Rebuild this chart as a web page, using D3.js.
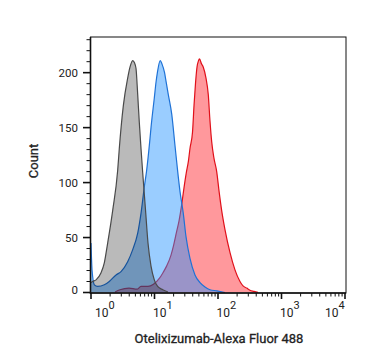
<!DOCTYPE html>
<html>
<head>
<meta charset="utf-8">
<script src="https://cdn.jsdelivr.net/npm/d3@7"></script>
<style>
  body { margin: 0; background: #fff; }
  text { font-family: Roboto, "Noto Sans", sans-serif; fill: #222; }
</style>
</head>
<body>
<div id="chart"></div>
<script>
const w = 367;
const h = 364;

// isotype control (gray)
const grayX = [1.00, 1.06, 1.20, 1.44, 1.62, 1.83, 2.20, 2.63, 2.79, 3.23, 3.78, 4.11, 4.54, 4.84, 5.11, 5.44, 5.76, 6.13, 6.52, 7.22, 7.90, 8.81, 9.93, 11.2, 13.5, 16.3];
const grayCount = [9, 10, 11.5, 18, 27, 45, 75, 111, 131, 170, 195, 205, 211, 209, 204, 180, 155, 131, 109, 75, 45, 24, 11.5, 5.5, 2.5, 0.5];

// blue sample
const blueX = [1.00, 1.04, 1.13, 1.27, 1.62, 1.94, 2.48, 2.97, 3.78, 4.54, 5.44, 6.13, 6.91, 7.48, 8.49, 8.81, 9.93, 10.6, 11.1, 12.3, 13.1, 14.4, 15.2, 16.5, 18.7, 21.0, 23.0, 25.2, 28.4, 31.3, 36.2, 43.4, 52.1, 62.4, 74.8, 96.4, 129];
const blueCount = [45, 20, 7, 5.5, 7, 10, 16, 19, 28, 39, 54, 72, 96, 110, 140, 150, 177, 192, 200, 211, 208, 200, 192, 180, 162, 134, 112, 92, 72, 51, 31, 16, 9, 5, 2.5, 1.5, 0];

// red sample
const redX = [2.39, 2.86, 3.97, 5.30, 6.13, 7.90, 9.64, 12.0, 13.6, 15.5, 18.2, 19.8, 22.2, 24.3, 26.8, 29.1, 31.7, 34.1, 36.2, 39.7, 41.9, 44.2, 46.7, 49.3, 51.1, 55.0, 58.7, 64.7, 70.3, 74.8, 79.6, 86.5, 95.4, 104, 114, 129, 155, 185, 222, 248, 283, 319, 369, 427];
const redCount = [0.5, 2.5, 4, 3, 5.5, 5.5, 7.5, 13, 18, 24, 34, 42, 55, 65, 80, 95, 109, 119, 131, 146, 170, 190, 205, 211, 212.5, 208, 205, 195, 180, 156, 137, 122, 110, 92, 75, 57, 36, 20.6, 10, 6, 4, 2, 1, 0];

const yTicks = [0, 50, 100, 150, 200];
const xExponents = [0, 1, 2, 3, 4];

const svg = d3.select("#chart")
  .append("svg")
  .attr("width", w)
  .attr("height", h);

const x = d3.scaleLog().domain([1, 10000]).range([91, 345]);
const y = d3.scaleLinear().domain([0, 232]).range([292.5, 37.5]);

const area = d3.area()
  .x(d => x(d[0]))
  .y0(y(0))
  .y1(d => y(d[1]))
  .curve(d3.curveMonotoneX);
const line = d3.line()
  .x(d => x(d[0]))
  .y(d => y(d[1]))
  .curve(d3.curveMonotoneX);

const series = [
  { xs: redX, ys: redCount, fill: "rgba(255,10,20,0.42)", stroke: "#e0101a" },
  { xs: blueX, ys: blueCount, fill: "rgba(30,144,255,0.45)", stroke: "#1f72d6" },
  { xs: grayX, ys: grayCount, fill: "rgba(0,0,0,0.27)", stroke: "#4a4a4a" }
];

series.forEach(s => {
  const pts = s.xs.map((v, i) => [v, s.ys[i]]);
  svg.append("path").attr("d", area(pts)).attr("fill", s.fill);
  svg.append("path").attr("d", line(pts))
    .attr("fill", "none")
    .attr("stroke", s.stroke)
    .attr("stroke-width", 1.2);
});

// frame
svg.append("rect")
  .attr("x", 90.5).attr("y", 37)
  .attr("width", 255.5).attr("height", 256)
  .attr("fill", "none")
  .attr("stroke", "#111")
  .attr("stroke-width", 1);
svg.append("line").attr("x1", 90.5).attr("x2", 90.5).attr("y1", 37).attr("y2", 294)
  .attr("stroke", "#111").attr("stroke-width", 1.6);
svg.append("line").attr("x1", 90).attr("x2", 346).attr("y1", 293).attr("y2", 293)
  .attr("stroke", "#111").attr("stroke-width", 1.6);

// y axis ticks
const yMinor = d3.range(0, 231, 10);
svg.selectAll(".ytick")
  .data(yMinor)
  .enter()
  .append("line")
  .attr("x1", d => yTicks.includes(d) ? 83 : 86.5)
  .attr("x2", 90)
  .attr("y1", d => y(d))
  .attr("y2", d => y(d))
  .attr("stroke", "#111")
  .attr("stroke-width", d => yTicks.includes(d) ? 1.6 : 1);

svg.selectAll(".ylab")
  .data(yTicks)
  .enter()
  .append("text")
  .attr("x", 78)
  .attr("y", d => y(d) - (d === 0 ? 3 : 0))
  .attr("dy", "0.36em")
  .attr("text-anchor", "end")
  .attr("font-size", 11.5)
  .text(d => d);

// x axis ticks
const xMinor = [];
for (let e = 0; e < 4; e++) {
  for (let k = 2; k <= 9; k++) xMinor.push(k * Math.pow(10, e));
}
svg.selectAll(".xminor")
  .data(xMinor)
  .enter()
  .append("line")
  .attr("x1", d => x(d)).attr("x2", d => x(d))
  .attr("y1", 293).attr("y2", 296.5)
  .attr("stroke", "#111")
  .attr("stroke-width", 1);
svg.selectAll(".xmajor")
  .data(xExponents)
  .enter()
  .append("line")
  .attr("x1", d => x(Math.pow(10, d))).attr("x2", d => x(Math.pow(10, d)))
  .attr("y1", 293).attr("y2", 299)
  .attr("stroke", "#111")
  .attr("stroke-width", 1.6);

const xlab = svg.selectAll(".xlab")
  .data(xExponents)
  .enter()
  .append("text")
  .attr("y", 317)
  .attr("font-size", 12)
  .attr("x", (d, i) => {
    const t = x(Math.pow(10, d));
    if (i === 0) return t + 4;
    if (i === xExponents.length - 1) return t - 20;
    return t - 1.5;
  });
xlab.append("tspan").text("10");
xlab.append("tspan").attr("dy", -8).attr("font-size", 11).text(d => d);

// axis titles
svg.append("text")
  .attr("transform", "translate(38,161) rotate(-90)")
  .attr("text-anchor", "middle")
  .attr("font-size", 13)
  .attr("stroke", "#222")
  .attr("stroke-width", 0.3)
  .text("Count");

svg.append("text")
  .attr("x", 219)
  .attr("y", 343)
  .attr("text-anchor", "middle")
  .attr("font-size", 13)
  .attr("stroke", "#222")
  .attr("stroke-width", 0.3)
  .text("Otelixizumab-Alexa Fluor 488");
</script>
</body>
</html>
